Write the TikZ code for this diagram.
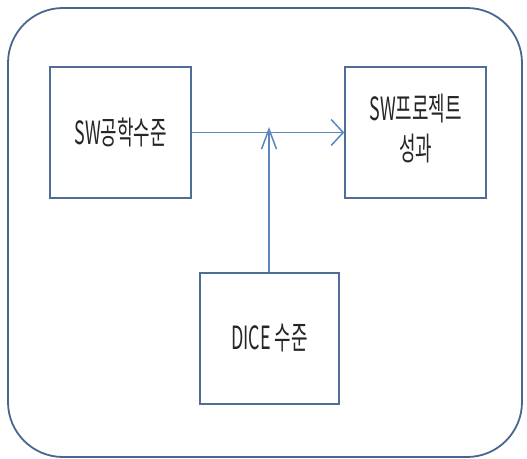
\documentclass[tikz,border=0pt]{standalone}
\usepackage{fontspec}
\usepackage{graphicx}
\setmainfont{Noto Sans CJK KR}
\usetikzlibrary{arrows.meta}
\definecolor{boxline}{HTML}{4F6D96}
\definecolor{arrowline}{HTML}{5B86BE}
\definecolor{outerline}{HTML}{4A6690}
\newcommand{\sqz}[1]{\scalebox{0.56}[1]{#1}}
\tikzset{
  x=1pt, y=-1pt,
  boxnode/.style={draw=boxline, line width=1.6pt, fill=white, minimum width=141pt, minimum height=131pt, inner sep=0pt,
    font=\fontsize{32}{40}\selectfont, text=black!85},
  conn/.style={draw=arrowline, line width=1.5pt},
}
\begin{document}
\begin{tikzpicture}
\useasboundingbox (0,0) rectangle (527,458);
\draw[outerline, line width=1.8pt, rounded corners=55pt] (8,8) rectangle (522,457);
\node[boxnode] (b1) at (120.5,132.5) {\sqz{SW공학수준}};
\node[boxnode] (b2) at (415.5,132.5) {\sqz{\begin{tabular}{@{}c@{}}SW프로젝트\\성과\end{tabular}}};
\node[boxnode, minimum width=139pt] (b3) at (269.5,338.5) {\sqz{DICE 수준}};
\coordinate (tip) at (269,127);
\draw[conn, -{Straight Barb[length=12pt,width=26pt,line width=1.5pt]}] (b1.east) -- (b2.west);
\draw[conn, -{Straight Barb[length=20pt,width=15pt,line width=1.5pt]}] (b3.north -| tip) -- (tip);
\end{tikzpicture}
\end{document}
